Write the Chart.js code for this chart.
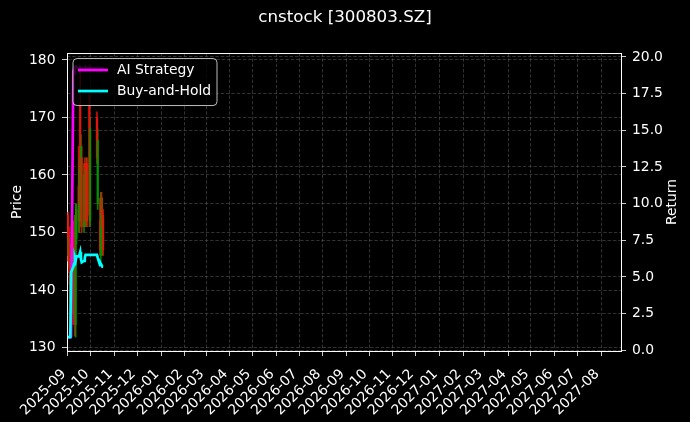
<!DOCTYPE html>
<html><head><meta charset="utf-8">
<script src="https://cdn.jsdelivr.net/npm/chart.js@4.4.1/dist/chart.umd.min.js"></script>
<style>html,body{margin:0;padding:0;background:#000;overflow:hidden}canvas{display:block}</style>
</head><body>
<canvas id="c" width="690" height="422"></canvas>
<script>
const chartTitle = 'cnstock [300803.SZ]';
const startDate = '2025-09-01';
const dates = ['2025-09-01','2025-09-02','2025-09-03','2025-09-04','2025-09-05',
  '2025-09-08','2025-09-09','2025-09-10','2025-09-11','2025-09-12',
  '2025-09-15','2025-09-16','2025-09-17','2025-09-18','2025-09-19',
  '2025-09-22','2025-09-23','2025-09-24','2025-09-25','2025-09-26',
  '2025-09-29','2025-09-30','2025-10-09','2025-10-10',
  '2025-10-13','2025-10-14','2025-10-15','2025-10-16','2025-10-17'];
const openP  = [153,146,149,143,138, 150,136,150,134,149, 158,152,172,155,163, 151,162,160,152,162, 172,152,170,155, 152,146,156,147,153];
const highP  = [153.5,150,151,146,148, 152,147,153,155,155, 165,163,178.9,167,165, 162,163,162,163,163, 174,170,171,168, 156,157,157,156,154];
const lowP   = [145,144,141,136,137, 134,135,132,131.8,148, 150,150,152,151,150, 150,151,151,151,151, 151,151,162,154, 146,145,150,146,146];
const closeP = [146,149,143,138,146, 136,145,134,153,154, 152,161,155,165,151, 160,152,152,161,152, 153,168,163,166, 147,156,151,153,147];
const aiStrategy = [0.9,0.9,0.9,0.9,0.95, 19.0,19.2,19.1,19.3,19.35, 19.2,19.1,19.3,19.25,19.2, 19.1,19.2,19.3,19.2,19.15, 19.3,19.2, 19.25,19.2, 19.1,19.2,19.15,19.2,19.1];
const buyHold = [0.9,0.9,0.9,0.9,5.3, 5.7,5.9,6.3,6.1,6.4, 6.4,6.5,6.7,6.2,6.0, 6.1,6.3,6.5,6.5,6.5, 6.5,6.5, 6.5,6.3, 5.8,5.9,5.8,5.7,5.7];
const monthLabels = ['2025-09','2025-10','2025-11','2025-12','2026-01','2026-02','2026-03','2026-04',
  '2026-05','2026-06','2026-07','2026-08','2026-09','2026-10','2026-11','2026-12',
  '2027-01','2027-02','2027-03','2027-04','2027-05','2027-06','2027-07','2027-08'];
const priceTicks = [130,140,150,160,170,180];
const returnTicks = [0,2.5,5,7.5,10,12.5,15,17.5,20];
const xRange = [-1.3, 725];
const priceRange = [129.4, 181.2];
const returnRange = [-0.05, 20.27];

const dayOffset = s => (Date.parse(s + 'T00:00:00Z') - Date.parse(startDate + 'T00:00:00Z')) / 86400000;
const xs = dates.map(dayOffset);
const monthOffsets = monthLabels.map(m => dayOffset(m + '-01'));
const candleColors = openP.map((o, i) => closeP[i] >= o ? 'rgba(0,150,0,0.85)' : 'rgba(235,20,10,0.85)');

Chart.defaults.font.family = 'DejaVu Sans';
Chart.defaults.color = '#fff';
const gridColor = 'rgba(120,120,120,0.5)';
const font = {size: 13.9};

const bgPlugin = {
  id: 'bg',
  beforeDraw(chart) {
    const ctx = chart.ctx;
    ctx.save(); ctx.fillStyle = '#000'; ctx.fillRect(0, 0, chart.width, chart.height); ctx.restore();
  }
};
const framePlugin = {
  id: 'frame',
  afterDraw(chart) {
    const ctx = chart.ctx, a = chart.chartArea;
    ctx.save();
    ctx.strokeStyle = '#fff'; ctx.lineWidth = 1;
    ctx.beginPath(); ctx.moveTo(a.left, a.top + 0.5); ctx.lineTo(a.right, a.top + 0.5); ctx.stroke();
    ctx.save();
    ctx.translate(672, (a.top + a.bottom) / 2);
    ctx.rotate(-Math.PI / 2);
    ctx.fillStyle = '#fff'; ctx.font = '13.9px "DejaVu Sans"'; ctx.textAlign = 'center'; ctx.textBaseline = 'middle';
    ctx.fillText('Return', 0, 0);
    ctx.restore();
    const lx = a.left + 6, ly = a.top + 5.5, lw = 144, lh = 47, r = 4;
    ctx.beginPath();
    ctx.moveTo(lx + r, ly); ctx.lineTo(lx + lw - r, ly); ctx.quadraticCurveTo(lx + lw, ly, lx + lw, ly + r);
    ctx.lineTo(lx + lw, ly + lh - r); ctx.quadraticCurveTo(lx + lw, ly + lh, lx + lw - r, ly + lh);
    ctx.lineTo(lx + r, ly + lh); ctx.quadraticCurveTo(lx, ly + lh, lx, ly + lh - r);
    ctx.lineTo(lx, ly + r); ctx.quadraticCurveTo(lx, ly, lx + r, ly); ctx.closePath();
    ctx.fillStyle = 'rgba(0,0,0,0.8)'; ctx.fill();
    ctx.strokeStyle = 'rgba(220,220,220,0.85)'; ctx.lineWidth = 1; ctx.stroke();
    const items = chart.data.datasets.filter(d => d.type === 'line');
    items.forEach((d, i) => {
      const y = ly + 11.5 + i * 21;
      ctx.strokeStyle = d.borderColor; ctx.lineWidth = 2.7;
      ctx.beginPath(); ctx.moveTo(lx + 5, y); ctx.lineTo(lx + 35, y); ctx.stroke();
      ctx.fillStyle = '#fff'; ctx.font = '13.9px "DejaVu Sans"'; ctx.textBaseline = 'middle'; ctx.textAlign = 'left';
      ctx.fillText(d.label, lx + 44, y + 0.5);
    });
    ctx.restore();
  }
};

new Chart(document.getElementById('c'), {
  type: 'bar',
  data: {
    datasets: [
      {type: 'line', label: 'AI Strategy', data: xs.map((x, i) => ({x, y: aiStrategy[i]})),
        borderColor: '#ff00ff', backgroundColor: '#ff00ff', borderWidth: 2.7, pointRadius: 0, tension: 0, yAxisID: 'y1', order: 1},
      {type: 'line', label: 'Buy-and-Hold', data: xs.map((x, i) => ({x, y: buyHold[i]})),
        borderColor: '#00ffff', backgroundColor: '#00ffff', borderWidth: 2.7, pointRadius: 0, tension: 0, yAxisID: 'y1', order: 0},
      {type: 'bar', label: 'wick', data: xs.map((x, i) => ({x, y: [lowP[i], highP[i]]})),
        backgroundColor: candleColors, barThickness: 1, grouped: false, yAxisID: 'y', order: 3},
      {type: 'bar', label: 'body', data: xs.map((x, i) => ({x, y: [openP[i], closeP[i]]})),
        backgroundColor: candleColors, barThickness: 1.6, grouped: false, yAxisID: 'y', order: 2}
    ]
  },
  options: {
    animation: false, responsive: false,
    layout: {padding: 0},
    plugins: {
      legend: {display: false}, tooltip: {enabled: false},
      title: {display: true, text: chartTitle, color: '#fff', font: {size: 16.7, weight: 'normal'}, padding: {top: 8, bottom: 25}}
    },
    scales: {
      x: {
        type: 'linear', min: xRange[0], max: xRange[1], offset: false,
        afterBuildTicks: s => { s.ticks = monthOffsets.map(v => ({value: v})); },
        afterFit: s => { s.height = 71; },
        ticks: {autoSkip: false, maxRotation: 45, minRotation: 45, color: '#fff', font, padding: 10, labelOffset: -4,
          callback: (v, i) => monthLabels[i]},
        grid: {color: gridColor, lineWidth: 0.8, tickColor: '#fff', tickLength: 5, offset: false},
        border: {color: '#fff', width: 1, dash: [3.5, 1.8]}
      },
      y: {
        position: 'left', min: priceRange[0], max: priceRange[1],
        afterBuildTicks: s => { s.ticks = priceTicks.map(v => ({value: v})); },
        afterFit: s => { s.width = 67; },
        ticks: {color: '#fff', font, padding: 6.5, callback: v => String(v)},
        grid: {color: gridColor, lineWidth: 0.8, tickColor: '#fff', tickLength: 5},
        border: {color: '#fff', width: 1, dash: [3.5, 1.8]},
        title: {display: true, text: 'Price', color: '#fff', font, padding: {top: 8.7, bottom: 0}}
      },
      y1: {
        position: 'right', min: returnRange[0], max: returnRange[1],
        afterBuildTicks: s => { s.ticks = returnTicks.map(v => ({value: v})); },
        afterFit: s => { s.width = 69; },
        ticks: {color: '#fff', font, padding: 6, callback: v => Number(v).toFixed(1)},
        grid: {color: gridColor, lineWidth: 0.8, tickColor: '#fff', tickLength: 5},
        border: {color: '#fff', width: 1, dash: [3.5, 1.8]},
        title: {display: false}
      }
    }
  },
  plugins: [bgPlugin, framePlugin]
});
</script>
</body></html>
